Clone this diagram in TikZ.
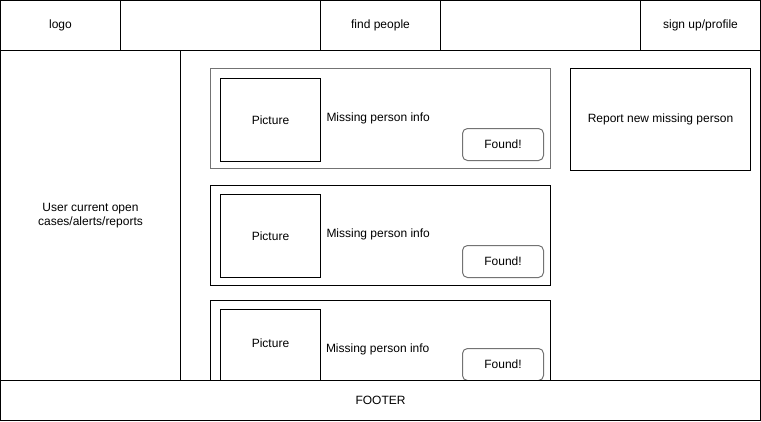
\documentclass[tikz,border=0pt]{standalone}
\usepackage{fontspec}
\setmainfont{Liberation Sans}
\usepackage{tikz}
\usetikzlibrary{positioning}

\definecolor{framegray}{RGB}{115,115,115}

\begin{document}
\begin{tikzpicture}[x=1pt, y=-1pt,
    node distance=0pt,
    every node/.style={font=\fontsize{12}{14}\selectfont, inner sep=0pt, outer sep=0pt},
    cell/.style={draw, line width=1pt, anchor=north west},
    headcell/.style={cell, minimum height=50pt},
    card/.style={cell, minimum width=340pt, minimum height=100pt},
    pic/.style={cell, minimum width=100pt, minimum height=83pt},
    foundbtn/.style={draw=framegray, line width=1pt, rounded corners=5pt,
        minimum width=81pt, minimum height=32pt, anchor=north west}
    ]
    \useasboundingbox (0,0) rectangle (761,421);

    % header bar
    \node[headcell, minimum width=120pt] (logo) at (0.5,0.5) {logo};
    \node[headcell, minimum width=200pt, anchor=west, right=of logo] (gapa) {};
    \node[headcell, minimum width=120pt, anchor=west, right=of gapa] (find) {find people};
    \node[headcell, minimum width=200pt, anchor=west, right=of find] (gapb) {};
    \node[headcell, minimum width=120pt, anchor=west, right=of gapb] (signup) {sign up/profile};

    % body
    \node[cell, minimum width=180pt, minimum height=330pt, align=center] (cases) at (0.5,50.5)
        {User current open\\cases/alerts/reports};
    \node[cell, minimum width=580pt, minimum height=330pt] (main) at (180.5,50.5) {};

    % cards
    \node[card, draw=framegray, line width=1.6pt] (carda) at (210.5,68.5) {};
    \node[pic] (pica) at (220.5,78.5) {Picture};
    \node[anchor=west, right=6pt of pica, yshift=2pt] (infoa) {Missing person info};
    \node[foundbtn] (founda) at (462.5,128.5) {Found!};

    \node[card] (cardb) at (210.5,185.5) {};
    \node[pic] (picb) at (220.5,194.5) {Picture};
    \node[anchor=west, right=6pt of picb, yshift=2pt] (infob) {Missing person info};
    \node[foundbtn] (foundb) at (462.5,245.5) {Found!};

    \node[card] (cardc) at (210.5,300.5) {};
    \node[pic] (picc) at (220.5,309.5) {};
    \node at (270.5,343) (picctext) {Picture};
    \node[anchor=west] (infoc) at (326,349) {Missing person info};
    \node[foundbtn] (foundc) at (462.5,348.5) {Found!};

    \node[cell, minimum width=180pt, minimum height=102pt] (report) at (570.5,68.5)
        {Report new missing person};

    % footer
    \node[cell, fill=white, minimum width=760pt, minimum height=40pt] (footer) at (0.5,380.5) {FOOTER};

\end{tikzpicture}
\end{document}
